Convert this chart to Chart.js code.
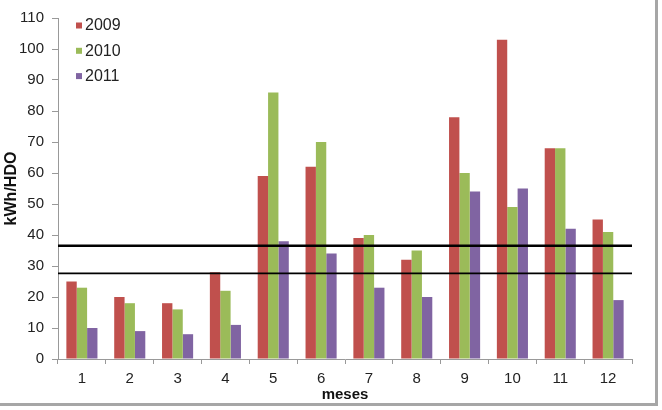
<!DOCTYPE html>
<html><head><meta charset="utf-8">
<script src="https://cdn.jsdelivr.net/npm/chart.js@4/dist/chart.umd.min.js"></script>
<style>
html,body{margin:0;padding:0;background:#fff;}
#wrap{position:absolute;left:0;top:0;width:662px;height:410px;}
#frame{position:absolute;left:0;top:0;width:655px;height:403px;border-right:3px solid #a6a6a6;border-bottom:3px solid #a6a6a6;pointer-events:none;}
canvas{position:absolute;left:0;top:0;}
</style></head>
<body>
<div id="wrap"><canvas id="c" width="662" height="410"></canvas><div id="frame"></div></div>
<script>
const categories = ['1','2','3','4','5','6','7','8','9','10','11','12'];
const seriesNames = ['2009','2010','2011'];
const values2009 = [25, 20, 18, 28, 59, 62, 39, 32, 78, 103, 68, 45];
const values2010 = [23, 18, 16, 22, 86, 70, 40, 35, 60, 49, 68, 41];
const values2011 = [10, 9, 8, 11, 38, 34, 23, 20, 54, 55, 42, 19];
const refLines = [36.5, 27.6];
const colors = ['#C0504D', '#9BBB59', '#8064A2'];
const FONT = '"Liberation Sans", Arial, sans-serif';

const refPlugin = {
  id: 'refLines',
  afterDatasetsDraw(chart) {
    const ctx = chart.ctx, y = chart.scales.y, a = chart.chartArea;
    const widths = [2.5, 1.8];
    ctx.save();
    ctx.strokeStyle = '#000';
    refLines.forEach((v, i) => {
      const py = y.getPixelForValue(v);
      ctx.lineWidth = widths[i];
      ctx.beginPath(); ctx.moveTo(a.left, py); ctx.lineTo(a.right, py); ctx.stroke();
    });
    ctx.restore();
  }
};
const legendPlugin = {
  id: 'insideLegend',
  afterDraw(chart) {
    const ctx = chart.ctx;
    ctx.save();
    ctx.font = '16px ' + FONT;
    ctx.textBaseline = 'middle';
    chart.data.datasets.forEach((ds, i) => {
      const cy = 25.5 + i * 25.3;
      ctx.fillStyle = ds.backgroundColor;
      ctx.fillRect(76, cy - 3, 6, 6);
      ctx.fillStyle = '#222';
      ctx.fillText(ds.label, 85, cy + 0.5);
    });
    ctx.restore();
  }
};

new Chart(document.getElementById('c'), {
  type: 'bar',
  data: {
    labels: categories,
    datasets: [
      {label: seriesNames[0], data: values2009, backgroundColor: colors[0]},
      {label: seriesNames[1], data: values2010, backgroundColor: colors[1]},
      {label: seriesNames[2], data: values2011, backgroundColor: colors[2]}
    ]
  },
  options: {
    responsive: false,
    animation: false,
    layout: {padding: {left: 0, top: 18, right: 30, bottom: 0}},
    datasets: {bar: {barPercentage: 1.0, categoryPercentage: 0.65}},
    plugins: {legend: {display: false}, tooltip: {enabled: false}},
    scales: {
      x: {
        grid: {display: true, drawOnChartArea: false, drawTicks: true, tickLength: 5, color: '#999', offset: true},
        border: {color: '#999'},
        ticks: {color: '#222', font: {family: FONT, size: 15}, padding: 6},
        title: {display: true, text: 'meses', color: '#111', font: {family: FONT, size: 15, weight: 'bold'}, padding: {top: 0, bottom: 6}},
        afterFit(s) { s.height = 410 - 359; }
      },
      y: {
        min: 0, max: 110,
        grid: {display: true, drawOnChartArea: false, drawTicks: true, tickLength: 6, color: '#999'},
        border: {color: '#999'},
        ticks: {stepSize: 10, color: '#222', font: {family: FONT, size: 15}, padding: 8},
        title: {display: true, text: 'kWh/HDO', color: '#111', font: {family: FONT, size: 16, weight: 'bold'}, padding: {top: 2, bottom: 0}},
        afterFit(s) { s.width = 58; }
      }
    }
  },
  plugins: [refPlugin, legendPlugin]
});
</script>
</body></html>
